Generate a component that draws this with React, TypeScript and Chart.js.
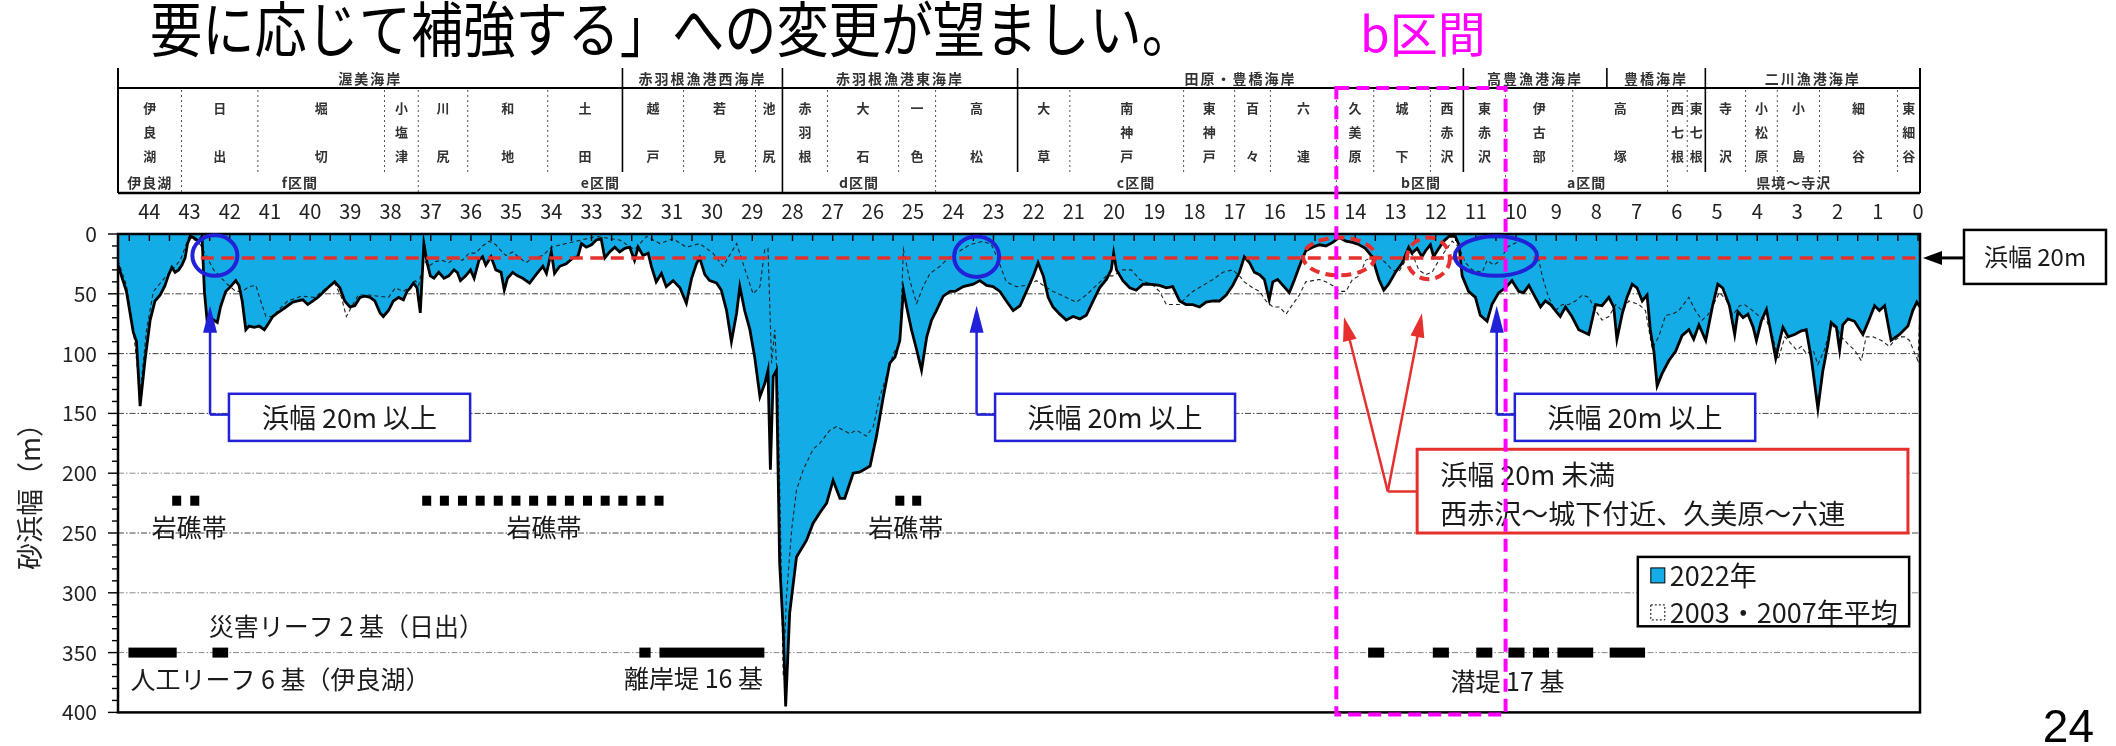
import { useEffect, useRef } from "react";
import { Chart, registerables } from "chart.js";

Chart.register(...registerables);

const FONT = '"Noto Sans CJK JP", "Noto Sans", sans-serif';
const LATIN = '"Liberation Sans", Arial, sans-serif';

// ---- texts ----
const TITLE = "要に応じて補強する」への変更が望ましい。";
const FOCUS_LABEL = "b区間";
const PAGE_NO = "24";
const Y_TITLE = "砂浜幅（m）";
const LEGEND_2022 = "2022年";
const LEGEND_AVG = "2003・2007年平均";

// ---- axes ----
const KM_MIN = -0.05;
const KM_MAX = 44.78;
const KM_TICKS = [0, 1, 2, 3, 4, 5, 6, 7, 8, 9, 10, 11, 12, 13, 14, 15, 16, 17, 18, 19, 20, 21, 22, 23, 24, 25, 26, 27, 28, 29, 30, 31, 32, 33, 34, 35, 36, 37, 38, 39, 40, 41, 42, 43, 44];
const WIDTH_TICKS = [0, 50, 100, 150, 200, 250, 300, 350, 400];
const GRID_LEVELS = [50, 100, 150, 200, 250, 300, 350];

// ---- beach width, 2022 survey: [km, m] ----
const BEACH_2022: [number, number][] = [
  [44.78, 26], [44.57, 48], [44.4, 82], [44.32, 90], [44.23, 144], [44.11, 106], [43.98, 72], [43.86, 56], [43.73, 51], [43.61, 43],
  [43.52, 34], [43.44, 28], [43.36, 32], [43.27, 30], [43.19, 26], [43.11, 20], [43.05, 8], [42.98, 2], [42.9, 3], [42.77, 6],
  [42.69, 2], [42.63, 48], [42.56, 74], [42.48, 77], [42.4, 72], [42.31, 74], [42.23, 61], [42.1, 48], [41.98, 44], [41.85, 39],
  [41.77, 43], [41.69, 56], [41.6, 80], [41.52, 77], [41.39, 78], [41.27, 77], [41.14, 80], [41.06, 76], [40.93, 69], [40.81, 66],
  [40.68, 63], [40.56, 60], [40.43, 57], [40.31, 56], [40.18, 55], [40.06, 59], [39.93, 56], [39.81, 53], [39.68, 49], [39.56, 45],
  [39.39, 40], [39.26, 45], [39.14, 56], [39.01, 61], [38.89, 60], [38.76, 53], [38.64, 52], [38.51, 53], [38.39, 56], [38.26, 66],
  [38.18, 69], [38.05, 64], [37.93, 56], [37.8, 53], [37.68, 55], [37.59, 48], [37.51, 45], [37.43, 41], [37.34, 45], [37.26, 66],
  [37.17, 8], [37.09, 24], [37.01, 35], [36.92, 37], [36.8, 32], [36.67, 37], [36.55, 35], [36.42, 30], [36.34, 32], [36.26, 39],
  [36.13, 35], [36.01, 30], [35.92, 37], [35.8, 22], [35.71, 19], [35.63, 26], [35.5, 19], [35.38, 30], [35.25, 32], [35.17, 47],
  [35.09, 37], [34.96, 32], [34.84, 35], [34.71, 37], [34.54, 41], [34.38, 34], [34.21, 27], [34.12, 33], [34.0, 15], [33.92, 33],
  [33.79, 27], [33.63, 25], [33.46, 20], [33.34, 19], [33.25, 8], [33.13, 11], [33.0, 9], [32.88, 5], [32.76, 4], [32.67, 20],
  [32.55, 15], [32.42, 11], [32.3, 15], [32.17, 12], [32.05, 11], [31.93, 22], [31.84, 11], [31.72, 18], [31.59, 16], [31.51, 27],
  [31.39, 40], [31.26, 33], [31.14, 44], [30.97, 39], [30.8, 45], [30.64, 58], [30.51, 37], [30.39, 25], [30.31, 20], [30.18, 34],
  [30.06, 39], [29.89, 41], [29.77, 47], [29.64, 64], [29.52, 90], [29.39, 66], [29.31, 44], [29.19, 64], [29.06, 80], [28.94, 103],
  [28.81, 136], [28.69, 125], [28.61, 114], [28.55, 197], [28.48, 119], [28.4, 114], [28.32, 275], [28.23, 331], [28.17, 395], [28.07, 317],
  [27.9, 270], [27.65, 256], [27.49, 242], [27.32, 233], [27.15, 225], [26.99, 206], [26.82, 221], [26.7, 221], [26.57, 208], [26.49, 200],
  [26.32, 199], [26.07, 194], [25.91, 169], [25.74, 136], [25.58, 108], [25.45, 103], [25.33, 89], [25.24, 47], [25.16, 61], [25.04, 80],
  [24.91, 97], [24.79, 114], [24.66, 86], [24.54, 72], [24.42, 64], [24.25, 52], [24.08, 48], [23.96, 48], [23.75, 44], [23.5, 42],
  [23.34, 39], [23.17, 43], [23.01, 44], [22.84, 48], [22.68, 56], [22.51, 64], [22.34, 60], [22.18, 48], [22.01, 35], [21.89, 24],
  [21.76, 35], [21.64, 53], [21.52, 61], [21.35, 67], [21.19, 72], [21.02, 69], [20.85, 71], [20.69, 68], [20.52, 56], [20.36, 45],
  [20.19, 38], [20.07, 30], [20.01, 16], [19.94, 30], [19.78, 39], [19.61, 45], [19.45, 47], [19.28, 42], [19.12, 42], [18.87, 43],
  [18.7, 45], [18.54, 44], [18.37, 56], [18.21, 59], [18.04, 59], [17.87, 61], [17.71, 57], [17.54, 56], [17.38, 56], [17.21, 51],
  [17.05, 43], [16.88, 32], [16.76, 19], [16.63, 24], [16.51, 32], [16.38, 34], [16.26, 38], [16.14, 55], [16.05, 40], [15.93, 38],
  [15.8, 43], [15.64, 49], [15.51, 38], [15.39, 27], [15.23, 14], [15.06, 11], [14.89, 9], [14.73, 10], [14.56, 7], [14.4, 3],
  [14.23, 6], [14.07, 7], [13.9, 9], [13.75, 12], [13.58, 19], [13.41, 38], [13.29, 47], [13.17, 42], [13.0, 32], [12.83, 24],
  [12.67, 11], [12.59, 16], [12.46, 12], [12.34, 19], [12.25, 14], [12.13, 9], [12.05, 19], [11.92, 12], [11.8, 6], [11.67, 2],
  [11.51, 2], [11.42, 9], [11.34, 35], [11.18, 48], [11.01, 53], [10.89, 68], [10.72, 73], [10.6, 59], [10.43, 49], [10.26, 45],
  [10.1, 39], [9.93, 48], [9.81, 49], [9.68, 43], [9.52, 53], [9.39, 61], [9.27, 56], [9.14, 59], [9.02, 64], [8.9, 69],
  [8.77, 61], [8.61, 69], [8.44, 80], [8.19, 84], [8.02, 59], [7.86, 60], [7.69, 53], [7.57, 61], [7.49, 88], [7.36, 67],
  [7.24, 53], [7.11, 42], [6.99, 45], [6.86, 56], [6.74, 51], [6.66, 80], [6.57, 98], [6.49, 127], [6.37, 117], [6.2, 106],
  [6.03, 98], [5.87, 85], [5.7, 80], [5.58, 88], [5.45, 76], [5.28, 89], [5.11, 60], [4.98, 42], [4.86, 45], [4.69, 60],
  [4.56, 84], [4.48, 65], [4.35, 70], [4.23, 67], [4.1, 78], [4.02, 89], [3.9, 73], [3.77, 63], [3.65, 84], [3.54, 104],
  [3.44, 89], [3.36, 78], [3.23, 86], [3.07, 84], [2.9, 81], [2.78, 80], [2.65, 105], [2.49, 146], [2.37, 115], [2.24, 92],
  [2.16, 74], [2.03, 78], [1.95, 97], [1.87, 76], [1.74, 71], [1.58, 73], [1.37, 84], [1.21, 71], [1.08, 60], [0.96, 64],
  [0.83, 60], [0.67, 89], [0.46, 84], [0.25, 77], [0.13, 64], [0.03, 57], [-0.05, 61],
];

// ---- beach width, 2003/2007 average: [km, m] ----
const BEACH_AVG: [number, number][] = [
  [44.78, 22], [44.57, 43], [44.4, 80], [44.23, 133], [44.07, 80], [43.9, 48], [43.65, 38], [43.44, 30], [43.23, 22], [43.02, 3],
  [42.81, 6], [42.73, 9], [42.4, 30], [42.06, 42], [41.85, 48], [41.69, 48], [41.52, 44], [41.35, 43], [41.23, 56], [41.1, 69],
  [40.93, 69], [40.77, 63], [40.56, 56], [40.22, 52], [39.89, 53], [39.56, 44], [39.39, 41], [39.22, 53], [39.1, 69], [38.97, 61],
  [38.8, 51], [38.55, 51], [38.3, 52], [38.05, 53], [37.88, 45], [37.68, 48], [37.51, 44], [37.38, 39], [37.3, 43], [37.17, 22],
  [37.05, 27], [36.88, 23], [36.72, 22], [36.55, 24], [36.38, 20], [36.21, 22], [36.05, 16], [35.88, 16], [35.71, 10], [35.55, 6],
  [35.38, 9], [35.25, 14], [35.13, 18], [34.96, 15], [34.79, 20], [34.63, 24], [34.46, 20], [34.21, 18], [34.0, 11], [33.63, 8],
  [33.25, 5], [32.88, 2], [32.3, 5], [31.93, 13], [31.63, 2], [31.3, 8], [30.97, 4], [30.64, 11], [30.31, 8], [29.98, 16],
  [29.73, 27], [29.39, 8], [29.15, 33], [28.98, 50], [28.81, 44], [28.69, 13], [28.61, 12], [28.52, 108], [28.44, 80], [28.36, 136],
  [28.23, 370], [28.15, 303], [28.02, 247], [27.9, 214], [27.73, 197], [27.49, 180], [27.32, 175], [27.07, 164], [26.9, 161], [26.74, 164],
  [26.57, 167], [26.41, 164], [26.16, 169], [25.99, 161], [25.83, 136], [25.66, 119], [25.49, 100], [25.33, 91], [25.24, 13], [25.08, 39],
  [24.91, 58], [24.75, 44], [24.58, 33], [24.33, 27], [24.08, 19], [23.83, 14], [23.59, 9], [23.26, 6], [23.05, 9], [22.88, 22],
  [22.68, 40], [22.43, 44], [22.18, 43], [21.93, 39], [21.76, 43], [21.52, 48], [21.19, 53], [20.94, 57], [20.69, 51], [20.44, 43],
  [20.19, 35], [20.03, 35], [19.78, 30], [19.57, 30], [19.36, 38], [19.03, 43], [18.87, 48], [18.7, 59], [18.37, 59], [18.21, 53],
  [18.04, 48], [17.79, 43], [17.54, 38], [17.29, 32], [17.05, 30], [16.88, 35], [16.76, 40], [16.55, 45], [16.38, 48], [16.22, 56],
  [16.05, 61], [15.89, 61], [15.72, 67], [15.56, 59], [15.39, 51], [15.23, 40], [15.06, 39], [14.89, 38], [14.73, 40], [14.52, 44],
  [14.4, 48], [14.23, 48], [14.07, 38], [13.9, 35], [13.74, 22], [13.57, 19], [13.41, 19], [13.25, 24], [13.08, 30], [12.92, 32],
  [12.75, 22], [12.59, 16], [12.42, 30], [12.25, 34], [12.09, 32], [11.92, 22], [11.76, 14], [11.59, 6], [11.42, 11], [11.26, 24],
  [11.09, 30], [10.84, 32], [10.72, 22], [10.55, 26], [10.39, 22], [10.22, 11], [9.93, 6], [9.77, 6], [9.6, 11], [9.48, 14],
  [9.35, 35], [9.19, 53], [9.02, 64], [8.85, 59], [8.69, 59], [8.52, 56], [8.35, 51], [8.19, 53], [8.02, 64], [7.86, 72],
  [7.69, 69], [7.52, 59], [7.36, 64], [7.19, 56], [6.94, 59], [6.78, 64], [6.61, 96], [6.44, 85], [6.28, 68], [6.11, 67],
  [5.95, 64], [5.7, 53], [5.54, 64], [5.37, 72], [5.21, 67], [4.94, 49], [4.77, 55], [4.61, 68], [4.44, 60], [4.32, 59],
  [4.15, 63], [3.98, 68], [3.77, 72], [3.61, 86], [3.48, 105], [3.31, 86], [3.15, 92], [3.02, 97], [2.9, 94], [2.78, 100],
  [2.61, 97], [2.49, 109], [2.33, 97], [2.16, 77], [2.03, 78], [1.91, 86], [1.74, 92], [1.58, 97], [1.41, 106], [1.29, 86],
  [1.12, 86], [0.91, 89], [0.71, 94], [0.58, 89], [0.46, 86], [0.33, 86], [0.21, 89], [0.08, 100], [0.0, 106], [-0.05, 63],
];

// ---- header table (km boundaries) ----
const COAST_NAMES = ["渥美海岸", "赤羽根漁港西海岸", "赤羽根漁港東海岸", "田原・豊橋海岸", "高豊漁港海岸", "豊橋海岸", "二川漁港海岸"];
const COAST_BOUNDS = [44.78, 32.23, 28.25, 22.4, 11.31, 7.74, 5.29, -0.05];
const PLACE_NAMES = [
  "伊良湖", "日出", "堀切", "小塩津", "川尻", "和地", "土田", "越戸", "若見", "池尻", "赤羽根", "大石", "一色", "高松", "大草", "南神戸",
  "東神戸", "百々", "六連", "久美原", "城下", "西赤沢", "東赤沢", "伊古部", "高塚", "西七根", "東七根", "寺沢", "小松原", "小島", "細谷", "東細谷",
];
const PLACE_BOUNDS = [
  44.78, 43.2, 41.3, 38.15, 37.31, 36.08, 34.09, 32.23, 30.71, 28.92, 28.25, 27.13, 25.36, 24.44, 22.4, 21.1, 18.27,
  17.0, 16.11, 14.47, 13.54, 12.13, 11.31, 10.26, 8.59, 6.23, 5.74, 5.29, 4.29, 3.5, 2.45, 0.51, -0.05,
];
const SECTION_NAMES = ["伊良湖", "f区間", "e区間", "d区間", "c区間", "b区間", "a区間", "県境～寺沢"];
const SECTION_BOUNDS = [44.78, 43.2, 37.31, 28.25, 24.44, 14.47, 10.26, 6.23, -0.05];
const FOCUS_SECTION = 5;

// ---- annotations (km / m) ----
const THRESHOLD_M = 20;
const THRESHOLD_FROM_KM = 42.72;
const OK_ELLIPSES: [number, number, number, number][] = [[42.37, 18, 0.56, 17], [23.42, 19, 0.56, 17], [10.5, 18.4, 1.02, 16.6]];
const NG_ELLIPSES: [number, number, number, number][] = [[14.4, 18.8, 0.9, 15.8], [12.18, 20.4, 0.535, 17.4]];
const OK_LABEL = "浜幅 20m 以上";
const OK_ARROW_KM = [42.49, 23.42, 10.48];
const OK_BOX_KM: [number, number][] = [[42.02, 36.02], [22.96, 16.99], [10.03, 4.05]];
const OK_BOX_M: [number, number] = [133.6, 173];
const OK_LINK_M = 151;
const ARROW_TIP_M = 60;
const NG_LINES = ["浜幅 20m 未満", "西赤沢～城下付近、久美原～六連"];
const NG_VERTEX: [number, number] = [13.19, 215.3];
const NG_TIPS: [number, number][] = [[14.28, 69.5], [12.34, 66.3]];
const NG_BOX_KM: [number, number] = [12.46, 0.25];
const NG_BOX_M: [number, number] = [180, 250];
const SIDE_LABEL = "浜幅 20m";

const ROCK_LABEL = "岩礁帯";
const ROCK_M = 223;
const ROCK_LABEL_M = 245;
const ROCK_MARKS = [43.32, 42.87, 37.1, 36.66, 36.21, 35.77, 35.32, 34.88, 34.44, 33.99, 33.55, 33.1, 32.66, 32.22, 31.77, 31.32, 25.33, 24.91];
const ROCK_LABEL_KM = [43.01, 34.18, 25.18];

const STRUCT_M = 350;
const STRUCT_BARS: [number, number][] = [
  [44.52, 43.32], [42.43, 42.04],
  [31.81, 31.53], [31.31, 28.7],
  [13.68, 13.28], [12.07, 11.67], [10.99, 10.59], [10.19, 9.79], [9.58, 9.18], [8.97, 8.08], [7.67, 6.79],
];
const STRUCT_TEXTS = ["人工リーフ 6 基（伊良湖）", "災害リーフ 2 基（日出）", "離岸堤 16 基", "潜堤 17 基"];
const STRUCT_TEXT_KM = [44.47, 42.52, 32.19, 11.63];
const STRUCT_TEXT_M = [372.5, 328, 371.5, 374];

const LEGEND_KM: [number, number] = [6.97, 0.22];
const LEGEND_M: [number, number] = [270, 328];

// ---- colours ----
const SEA_BLUE = "#14ACE6";
const OK_BLUE = "#2121D8";
const NG_RED = "#E5302E";
const MAGENTA = "#FF00FF";

// ---- header rows (px) ----
const HEADER_TOP = 68;
const ROW1_BOTTOM = 88;
const ROW2_BOTTOM = 172;
const HEADER_BOTTOM = 193;

function line(ctx: CanvasRenderingContext2D, x1: number, y1: number, x2: number, y2: number, w: number, color = "#000", dash: number[] = []) {
  ctx.save();
  ctx.beginPath();
  ctx.setLineDash(dash);
  ctx.strokeStyle = color;
  ctx.lineWidth = w;
  ctx.moveTo(x1, y1);
  ctx.lineTo(x2, y2);
  ctx.stroke();
  ctx.restore();
}

function label(ctx: CanvasRenderingContext2D, s: string, x: number, y: number, size: number, opts: any = {}) {
  ctx.save();
  ctx.font = `${opts.weight || 400} ${size}px ${opts.family || FONT}`;
  ctx.fillStyle = opts.color || "#1a1a1a";
  ctx.textAlign = opts.align || "left";
  ctx.textBaseline = opts.baseline || "middle";
  if (opts.spacing) (ctx as any).letterSpacing = `${opts.spacing}px`;
  if (opts.scaleX) {
    ctx.translate(x, y);
    ctx.scale(opts.scaleX, 1);
    ctx.fillText(s, 0, 0);
  } else {
    ctx.fillText(s, x, y);
  }
  ctx.restore();
}

function arrowHead(ctx: CanvasRenderingContext2D, tx: number, ty: number, fx: number, fy: number, len: number, half: number, color: string) {
  const a = Math.atan2(ty - fy, tx - fx);
  const bx = tx - len * Math.cos(a);
  const by = ty - len * Math.sin(a);
  ctx.save();
  ctx.beginPath();
  ctx.moveTo(tx, ty);
  ctx.lineTo(bx + half * Math.sin(a), by - half * Math.cos(a));
  ctx.lineTo(bx - half * Math.sin(a), by + half * Math.cos(a));
  ctx.closePath();
  ctx.fillStyle = color;
  ctx.fill();
  ctx.restore();
}

function box(ctx: CanvasRenderingContext2D, x1: number, y1: number, x2: number, y2: number, color: string, w: number) {
  ctx.save();
  ctx.fillStyle = "#fff";
  ctx.fillRect(x1, y1, x2 - x1, y2 - y1);
  ctx.strokeStyle = color;
  ctx.lineWidth = w;
  ctx.strokeRect(x1, y1, x2 - x1, y2 - y1);
  ctx.restore();
}

const overlay = {
  id: "beachOverlay",
  beforeDraw(chart: any) {
    const { ctx, chartArea: a } = chart;
    const Y = (m: number) => chart.scales.y.getPixelForValue(m);
    ctx.save();
    ctx.fillStyle = "#fff";
    ctx.fillRect(0, 0, chart.width, chart.height);
    ctx.restore();
    GRID_LEVELS.forEach((m) => line(ctx, a.left, Y(m), a.right, Y(m), 1, m === 200 || m >= 300 ? "#8a8a8a" : "#444", [6, 2, 1.5, 2]));
  },
  afterDatasetsDraw(chart: any) {
    const { ctx, chartArea: a } = chart;
    const X = (v: number) => chart.scales.x.getPixelForValue(v);
    const Y = (m: number) => chart.scales.y.getPixelForValue(m);

    // 20 m threshold
    ctx.save();
    ctx.beginPath();
    ctx.rect(a.left, a.top, a.right - a.left, a.bottom - a.top);
    ctx.clip();
    line(ctx, X(THRESHOLD_FROM_KM), Y(THRESHOLD_M), a.right, Y(THRESHOLD_M), 3.5, NG_RED, [13, 7.5]);
    ctx.restore();

    // frame and ticks
    ctx.save();
    ctx.strokeStyle = "#000";
    ctx.lineWidth = 2.5;
    ctx.strokeRect(a.left, a.top, a.right - a.left, a.bottom - a.top);
    ctx.restore();
    for (let v = 0; v <= 44.5; v += 0.5) line(ctx, X(v), a.top, X(v), a.top + 7, 1.4);
    for (let m = 0; m <= 400; m += 10) {
      const len = m % 50 === 0 ? 10 : 6;
      line(ctx, a.left - len, Y(m), a.left, Y(m), 1.4);
    }

    // ellipses
    const ellipse = (e: [number, number, number, number], color: string, dash: number[]) => {
      const cx = X(e[0]);
      const cy = Y(e[1]);
      const rx = Math.abs(X(e[0] + e[2]) - cx);
      const ry = Math.abs(Y(e[1] + e[3]) - cy);
      ctx.save();
      ctx.beginPath();
      ctx.setLineDash(dash);
      ctx.strokeStyle = color;
      ctx.lineWidth = 4;
      ctx.ellipse(cx, cy, rx, ry, 0, 0, Math.PI * 2);
      ctx.stroke();
      ctx.restore();
    };
    OK_ELLIPSES.forEach((e) => ellipse(e, OK_BLUE, []));
    NG_ELLIPSES.forEach((e) => ellipse(e, NG_RED, [10, 6]));

    // rocky reefs
    ctx.save();
    ctx.fillStyle = "#000";
    ROCK_MARKS.forEach((v) => ctx.fillRect(X(v) - 4.5, Y(ROCK_M) - 5, 9, 10));
    ctx.restore();
    ROCK_LABEL_KM.forEach((v) => label(ctx, ROCK_LABEL, X(v), Y(ROCK_LABEL_M), 25, { align: "center" }));

    // coastal structures
    ctx.save();
    ctx.fillStyle = "#000";
    STRUCT_BARS.forEach(([s, e]) => ctx.fillRect(X(s), Y(STRUCT_M) - 5, X(e) - X(s), 10));
    ctx.restore();
    STRUCT_TEXTS.forEach((t, i) => label(ctx, t, X(STRUCT_TEXT_KM[i]), Y(STRUCT_TEXT_M[i]), 25));

    // "20 m or more" callouts
    OK_ARROW_KM.forEach((v, i) => {
      const ax = X(v);
      const [b1, b2] = OK_BOX_KM[i];
      const yl = Y(OK_LINK_M);
      line(ctx, X(b1), yl, ax, yl, 2.5, OK_BLUE);
      line(ctx, ax, yl, ax, Y(ARROW_TIP_M) + 20, 2.5, OK_BLUE);
      arrowHead(ctx, ax, Y(ARROW_TIP_M), ax, yl, 27, 7, OK_BLUE);
      box(ctx, X(b1), Y(OK_BOX_M[0]), X(b2), Y(OK_BOX_M[1]), OK_BLUE, 2.5);
      label(ctx, OK_LABEL, (X(b1) + X(b2)) / 2, (Y(OK_BOX_M[0]) + Y(OK_BOX_M[1])) / 2, 27, { align: "center" });
    });

    // "under 20 m" callout
    const vx = X(NG_VERTEX[0]);
    const vy = Y(NG_VERTEX[1]);
    NG_TIPS.forEach(([v, m]) => {
      const tx = X(v);
      const ty = Y(m);
      const ang = Math.atan2(ty - vy, tx - vx);
      line(ctx, vx, vy, tx - 20 * Math.cos(ang), ty - 20 * Math.sin(ang), 2.5, NG_RED);
      arrowHead(ctx, tx, ty, vx, vy, 24, 7, NG_RED);
    });
    line(ctx, vx, vy, X(NG_BOX_KM[0]), vy, 2.5, NG_RED);
    box(ctx, X(NG_BOX_KM[0]), Y(NG_BOX_M[0]), X(NG_BOX_KM[1]), Y(NG_BOX_M[1]), NG_RED, 3);
    label(ctx, NG_LINES[0], X(NG_BOX_KM[0]) + 23, Y(NG_BOX_M[0]) + 25, 27);
    label(ctx, NG_LINES[1], X(NG_BOX_KM[0]) + 23, Y(NG_BOX_M[0]) + 64, 27);

    // legend
    const lx1 = X(LEGEND_KM[0]);
    const ly1 = Y(LEGEND_M[0]);
    box(ctx, lx1, ly1, X(LEGEND_KM[1]), Y(LEGEND_M[1]), "#000", 2.5);
    ctx.save();
    ctx.fillStyle = SEA_BLUE;
    ctx.fillRect(lx1 + 13, ly1 + 11, 14, 15);
    ctx.strokeStyle = "#000";
    ctx.lineWidth = 1;
    ctx.strokeRect(lx1 + 13, ly1 + 11, 14, 15);
    ctx.setLineDash([2, 2]);
    ctx.strokeRect(lx1 + 13, ly1 + 48, 14, 15);
    ctx.restore();
    label(ctx, LEGEND_2022, lx1 + 32, ly1 + 19, 27);
    label(ctx, LEGEND_AVG, lx1 + 32, ly1 + 56, 27);

    // side marker for the 20 m line
    const sy = Y(THRESHOLD_M);
    box(ctx, a.right + 44, sy - 28, a.right + 186, sy + 26, "#000", 2.5);
    label(ctx, SIDE_LABEL, a.right + 115, sy - 1, 24, { align: "center" });
    line(ctx, a.right + 44, sy, a.right + 20, sy, 3);
    arrowHead(ctx, a.right + 3, sy, a.right + 44, sy, 19, 7, "#000");
  },
  afterDraw(chart: any) {
    const { ctx, chartArea: a } = chart;
    const X = (v: number) => chart.scales.x.getPixelForValue(v);

    // header table
    const L = X(KM_MAX);
    const R = X(KM_MIN);
    line(ctx, L, HEADER_TOP, L, HEADER_BOTTOM, 2);
    line(ctx, R, HEADER_TOP, R, HEADER_BOTTOM, 2);
    line(ctx, L, ROW1_BOTTOM, R, ROW1_BOTTOM, 2);
    line(ctx, L, HEADER_BOTTOM, R, HEADER_BOTTOM, 2.5);
    COAST_BOUNDS.slice(1, -1).forEach((b) => {
      const end = SECTION_BOUNDS.includes(b) ? HEADER_BOTTOM : PLACE_BOUNDS.includes(b) ? ROW2_BOTTOM : ROW1_BOTTOM;
      line(ctx, X(b), HEADER_TOP, X(b), end, 1.6);
    });
    PLACE_BOUNDS.slice(1, -1)
      .filter((b) => !COAST_BOUNDS.includes(b))
      .forEach((b) => {
        const end = SECTION_BOUNDS.includes(b) ? HEADER_BOTTOM : ROW2_BOTTOM;
        line(ctx, X(b), ROW1_BOTTOM + 2, X(b), end, 1, "#555", [2, 3]);
      });
    COAST_NAMES.forEach((n, i) => {
      const cx = (X(COAST_BOUNDS[i]) + X(COAST_BOUNDS[i + 1])) / 2;
      label(ctx, n, cx, 78.5, 14, { align: "center", weight: 700, color: "#333", spacing: 2 });
    });
    PLACE_NAMES.forEach((n, i) => {
      const cx = (X(PLACE_BOUNDS[i]) + X(PLACE_BOUNDS[i + 1])) / 2;
      const chars = [...n];
      const rows = chars.length === 3 ? [108, 132, 156] : chars.length === 2 ? [108, 156] : [132];
      chars.forEach((c, j) => label(ctx, c, cx, rows[j], 13, { align: "center", weight: 700, color: "#333" }));
    });
    SECTION_NAMES.forEach((n, i) => {
      const cx = (X(SECTION_BOUNDS[i]) + X(SECTION_BOUNDS[i + 1])) / 2;
      label(ctx, n, cx, 183, 14, { align: "center", weight: 700, color: "#333", spacing: 1 });
    });

    // titles
    label(ctx, TITLE, 150, 29, 60, { color: "#000", scaleX: 0.87 });
    label(ctx, FOCUS_LABEL, 1360, 34, 48, { color: MAGENTA });
    label(ctx, PAGE_NO, 2094, 742, 46, { align: "right", baseline: "alphabetic", family: LATIN, color: "#000" });

    ctx.save();
    ctx.translate(30, 490);
    ctx.rotate(-Math.PI / 2);
    label(ctx, Y_TITLE, 0, 0, 27, { align: "center", color: "#222" });
    ctx.restore();

    // focus frame around section b
    const fx1 = X(SECTION_BOUNDS[FOCUS_SECTION]);
    const fx2 = X(SECTION_BOUNDS[FOCUS_SECTION + 1]);
    ctx.save();
    ctx.setLineDash([13, 7]);
    ctx.strokeStyle = MAGENTA;
    ctx.lineWidth = 4;
    ctx.strokeRect(fx1, ROW1_BOTTOM, fx2 - fx1, a.bottom + 2 - ROW1_BOTTOM);
    ctx.restore();
  },
};

export default function App() {
  const ref = useRef<HTMLCanvasElement | null>(null);

  useEffect(() => {
    const canvas = ref.current;
    if (!canvas) return;
    const chart = new Chart(canvas, {
      type: "line",
      data: {
        datasets: [
          {
            label: LEGEND_2022,
            data: BEACH_2022.map(([x, y]) => ({ x, y })),
            borderColor: "#000",
            borderWidth: 2.8,
            backgroundColor: SEA_BLUE,
            fill: "origin",
            pointRadius: 0,
            tension: 0,
          },
          {
            label: LEGEND_AVG,
            data: BEACH_AVG.map(([x, y]) => ({ x, y })),
            borderColor: "#222",
            borderWidth: 1.1,
            borderDash: [4, 3],
            fill: false,
            pointRadius: 0,
            tension: 0,
          },
        ],
      },
      options: {
        responsive: false,
        animation: false,
        devicePixelRatio: 1,
        layout: { padding: { left: 0, top: 194, right: 196, bottom: 7 } },
        scales: {
          x: {
            type: "linear",
            position: "top",
            reverse: true,
            min: KM_MIN,
            max: KM_MAX,
            afterBuildTicks: (s: any) => {
              s.ticks = KM_TICKS.map((value) => ({ value }));
            },
            afterFit: (s: any) => {
              s.height = 40;
            },
            grid: { display: false, drawTicks: false },
            border: { display: false },
            ticks: {
              autoSkip: false,
              maxRotation: 0,
              padding: 11,
              color: "#222",
              font: { family: FONT, size: 20 },
              callback: (v: any) => String(v),
            },
          },
          y: {
            type: "linear",
            reverse: true,
            min: 0,
            max: 400,
            afterBuildTicks: (s: any) => {
              s.ticks = WIDTH_TICKS.map((value) => ({ value }));
            },
            afterFit: (s: any) => {
              s.width = 118;
            },
            grid: { display: false, drawTicks: false },
            border: { display: false },
            ticks: {
              padding: 21,
              color: "#222",
              font: { family: FONT, size: 21 },
            },
          },
        },
        plugins: {
          legend: { display: false },
          tooltip: { enabled: false },
          filler: { drawTime: "beforeDatasetsDraw" },
        },
      } as any,
      plugins: [overlay],
    });
    return () => chart.destroy();
  }, []);

  return (
    <div style={{ position: "absolute", left: 0, top: 0, width: 2116, height: 746, background: "#fff" }}>
      <canvas ref={ref} width={2116} height={746} style={{ display: "block", width: 2116, height: 746 }} />
    </div>
  );
}
